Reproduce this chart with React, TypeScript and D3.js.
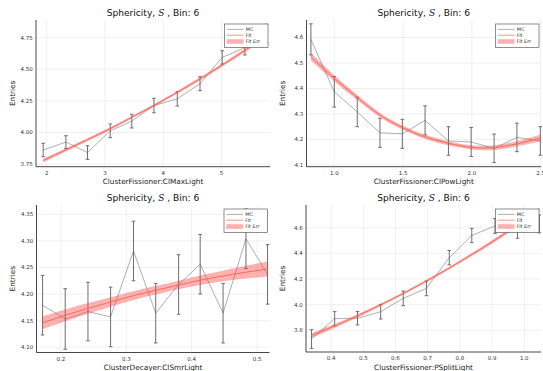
import React from "react";
import * as d3 from "d3";

const W = 543;
const H = 371;

// ClusterFissioner:ClMaxLight
const clMaxX = [1.94, 2.33, 2.7, 3.09, 3.46, 3.84, 4.24, 4.63, 5.01, 5.4, 5.77];
const clMaxMC = [3.861, 3.924, 3.841, 4.013, 4.09, 4.213, 4.266, 4.386, 4.594, 4.672, 4.78];
const clMaxMCErr = [0.053, 0.05, 0.054, 0.054, 0.054, 0.057, 0.057, 0.055, 0.053, 0.059, 0.076];
const clMaxFit = [3.778, 3.862, 3.943, 4.03, 4.12, 4.214, 4.318, 4.424, 4.533, 4.649, 4.764];
const clMaxFitErr = [0.014, 0.013, 0.012, 0.011, 0.01, 0.01, 0.011, 0.012, 0.013, 0.015, 0.017];
const clMaxXTicks = [2, 3, 4, 5];
const clMaxYTicks = [3.75, 4.0, 4.25, 4.5, 4.75];

// ClusterFissioner:ClPowLight
const clPowX = [0.83, 1.0, 1.167, 1.332, 1.495, 1.66, 1.83, 1.995, 2.162, 2.328, 2.498];
const clPowMC = [4.593, 4.387, 4.308, 4.226, 4.222, 4.275, 4.194, 4.19, 4.165, 4.208, 4.194];
const clPowMCErr = [0.061, 0.06, 0.058, 0.057, 0.057, 0.057, 0.056, 0.057, 0.056, 0.056, 0.056];
const clPowFit = [4.525, 4.44, 4.365, 4.296, 4.247, 4.21, 4.185, 4.169, 4.168, 4.183, 4.205];
const clPowFitErr = [0.015, 0.012, 0.01, 0.009, 0.008, 0.008, 0.008, 0.008, 0.009, 0.01, 0.013];
const clPowXTicks = [1.0, 1.5, 2.0, 2.5];
const clPowYTicks = [4.1, 4.2, 4.3, 4.4, 4.5, 4.6];

// ClusterDecayer:ClSmrLight
const clSmrX = [0.172, 0.2066, 0.2414, 0.276, 0.311, 0.345, 0.38, 0.413, 0.448, 0.483, 0.516];
const clSmrMC = [4.179, 4.153, 4.167, 4.157, 4.281, 4.164, 4.218, 4.256, 4.164, 4.304, 4.237];
const clSmrMCErr = [0.056, 0.057, 0.055, 0.056, 0.056, 0.056, 0.056, 0.056, 0.056, 0.056, 0.056];
const clSmrFit = [4.146, 4.16, 4.173, 4.185, 4.197, 4.207, 4.217, 4.226, 4.234, 4.241, 4.247];
const clSmrFitErr = [0.012, 0.011, 0.01, 0.009, 0.008, 0.008, 0.008, 0.009, 0.01, 0.012, 0.014];
const clSmrXTicks = [0.2, 0.3, 0.4, 0.5];
const clSmrYTicks = [4.1, 4.15, 4.2, 4.25, 4.3, 4.35];

// ClusterFissioner:PSplitLight
const pSplitX = [0.339, 0.411, 0.482, 0.554, 0.624, 0.696, 0.767, 0.837, 0.909, 0.979, 1.047];
const pSplitMC = [3.732, 3.891, 3.894, 3.945, 4.049, 4.127, 4.366, 4.539, 4.614, 4.575, 4.63];
const pSplitMCErr = [0.073, 0.055, 0.052, 0.057, 0.057, 0.057, 0.056, 0.056, 0.058, 0.057, 0.07];
const pSplitFit = [3.76, 3.834, 3.913, 3.999, 4.087, 4.184, 4.285, 4.391, 4.503, 4.622, 4.74];
const pSplitFitErr = [0.018, 0.015, 0.013, 0.011, 0.01, 0.01, 0.011, 0.012, 0.014, 0.016, 0.018];
const pSplitXTicks = [0.4, 0.5, 0.6, 0.7, 0.8, 0.9, 1.0];
const pSplitYTicks = [3.8, 4.0, 4.2, 4.4, 4.6];

const legendLabels = ["MC", "Fit", "Fit Err"];

const FONT = "'DejaVu Sans', sans-serif";
const MC_COLOR = "#9a9a9a";
const ERR_COLOR = "#555555";
const FIT_COLOR = "#e8805c";
const BAND_COLOR = "#ff3b3b";
const GRID_COLOR = "#e9e9e9";
const AXIS_COLOR = "#333333";

type PanelSpec = {
  key: string;
  left: number;
  right: number;
  top: number;
  bottom: number;
  xs: number[];
  mc: number[];
  mcErr: number[];
  fit: number[];
  fitErr: number[];
  xDomain: [number, number];
  yDomain: [number, number];
  xTicks: number[];
  yTicks: number[];
  xFmt: string;
  yFmt: string;
  xLabel: string;
};

const panels: PanelSpec[] = [
  {
    key: "clmax", left: 36, right: 270, top: 20, bottom: 166.7,
    xs: clMaxX, mc: clMaxMC, mcErr: clMaxMCErr, fit: clMaxFit, fitErr: clMaxFitErr,
    xDomain: [1.817, 5.83], yDomain: [3.729, 4.89],
    xTicks: clMaxXTicks, yTicks: clMaxYTicks, xFmt: "d", yFmt: ".2f",
    xLabel: "ClusterFissioner:ClMaxLight",
  },
  {
    key: "clpow", left: 306.5, right: 541, top: 20, bottom: 166.7,
    xs: clPowX, mc: clPowMC, mcErr: clPowMCErr, fit: clPowFit, fitErr: clPowFitErr,
    xDomain: [0.798, 2.503], yDomain: [4.093, 4.669],
    xTicks: clPowXTicks, yTicks: clPowYTicks, xFmt: ".1f", yFmt: ".1f",
    xLabel: "ClusterFissioner:ClPowLight",
  },
  {
    key: "clsmr", left: 36.5, right: 269.5, top: 205, bottom: 352.5,
    xs: clSmrX, mc: clSmrMC, mcErr: clSmrMCErr, fit: clSmrFit, fitErr: clSmrFitErr,
    xDomain: [0.1627, 0.519], yDomain: [4.09, 4.3675],
    xTicks: clSmrXTicks, yTicks: clSmrYTicks, xFmt: ".1f", yFmt: ".2f",
    xLabel: "ClusterDecayer:ClSmrLight",
  },
  {
    key: "psplit", left: 306, right: 541, top: 205, bottom: 352,
    xs: pSplitX, mc: pSplitMC, mcErr: pSplitMCErr, fit: pSplitFit, fitErr: pSplitFitErr,
    xDomain: [0.322, 1.052], yDomain: [3.631, 4.777],
    xTicks: pSplitXTicks, yTicks: pSplitYTicks, xFmt: ".1f", yFmt: ".1f",
    xLabel: "ClusterFissioner:PSplitLight",
  },
];

type Pt = { x: number; mc: number; e: number; f: number; fe: number };

function Panel({ spec }: { spec: PanelSpec }) {
  const x = d3.scaleLinear().domain(spec.xDomain).range([spec.left, spec.right]);
  const y = d3.scaleLinear().domain(spec.yDomain).range([spec.bottom, spec.top]);
  const pts: Pt[] = spec.xs.map((v, i) => ({
    x: v, mc: spec.mc[i], e: spec.mcErr[i], f: spec.fit[i], fe: spec.fitErr[i],
  }));
  const mcPath = d3.line<Pt>().x((d) => x(d.x)).y((d) => y(d.mc))(pts) || "";
  const fitPath = d3.line<Pt>().x((d) => x(d.x)).y((d) => y(d.f)).curve(d3.curveNatural)(pts) || "";
  const bandPath =
    d3.area<Pt>().x((d) => x(d.x)).y0((d) => y(d.f - d.fe)).y1((d) => y(d.f + d.fe)).curve(d3.curveNatural)(pts) || "";
  const xf = d3.format(spec.xFmt);
  const yf = d3.format(spec.yFmt);
  const cx = (spec.left + spec.right) / 2;
  const cy = (spec.top + spec.bottom) / 2;
  const clipId = `clip-${spec.key}`;

  const lgRight = spec.right - 2;
  const lgLeft = lgRight - 43.5;
  const lgTop = spec.top + 4;
  const rows = [5.4, 11.2, 17.5];

  return (
    <g>
      <defs>
        <clipPath id={clipId}>
          <rect x={spec.left} y={spec.top - 6} width={spec.right - spec.left + 2} height={spec.bottom - spec.top + 6} />
        </clipPath>
      </defs>
      {/* grid */}
      {spec.xTicks.map((t) => (
        <line key={`gx${t}`} x1={x(t)} x2={x(t)} y1={spec.top} y2={spec.bottom} stroke={GRID_COLOR} strokeWidth={0.7} />
      ))}
      {spec.yTicks.map((t) => (
        <line key={`gy${t}`} x1={spec.left} x2={spec.right} y1={y(t)} y2={y(t)} stroke={GRID_COLOR} strokeWidth={0.7} />
      ))}
      <g clipPath={`url(#${clipId})`}>
        <path d={mcPath} fill="none" stroke={MC_COLOR} strokeWidth={0.8} />
        {pts.map((d, i) => (
          <g key={`e${i}`} stroke={ERR_COLOR} strokeWidth={1} opacity={0.85}>
            <line x1={x(d.x)} x2={x(d.x)} y1={y(d.mc - d.e)} y2={y(d.mc + d.e)} />
            <line x1={x(d.x) - 1.8} x2={x(d.x) + 1.8} y1={y(d.mc - d.e)} y2={y(d.mc - d.e)} />
            <line x1={x(d.x) - 1.8} x2={x(d.x) + 1.8} y1={y(d.mc + d.e)} y2={y(d.mc + d.e)} />
          </g>
        ))}
        <path d={fitPath} fill="none" stroke={FIT_COLOR} strokeWidth={0.9} />
        <path d={bandPath} fill={BAND_COLOR} fillOpacity={0.4} stroke="none" />
      </g>
      {/* axes */}
      <line x1={spec.left} x2={spec.left} y1={spec.top} y2={spec.bottom} stroke={AXIS_COLOR} strokeWidth={0.9} />
      <line x1={spec.left} x2={spec.right} y1={spec.bottom} y2={spec.bottom} stroke={AXIS_COLOR} strokeWidth={0.9} />
      {spec.xTicks.map((t) => (
        <text key={`tx${t}`} x={x(t)} y={spec.bottom + 8.2} fontSize={5.5} textAnchor="middle" fill="#333" fontFamily={FONT}>
          {xf(t)}
        </text>
      ))}
      {spec.yTicks.map((t) => (
        <text key={`ty${t}`} x={spec.left - 3.3} y={y(t)} dy="0.35em" fontSize={5.5} textAnchor="end" fill="#333" fontFamily={FONT}>
          {yf(t)}
        </text>
      ))}
      <text x={cx} y={spec.top - 3.6} fontSize={9.1} textAnchor="middle" fill="#111" fontFamily={FONT}>
        Sphericity,{" "}
        <tspan fontFamily="'DejaVu Serif', serif" fontStyle="italic">S</tspan>
        {" "}, Bin: 6
      </text>
      <text x={cx} y={spec.bottom + 17.6} fontSize={7.3} textAnchor="middle" fill="#222" fontFamily={FONT}>
        {spec.xLabel}
      </text>
      <text
        transform={`translate(${spec.left - 21.5},${cy}) rotate(-90)`}
        fontSize={7.3}
        textAnchor="middle"
        fill="#222"
        fontFamily={FONT}
      >
        Entries
      </text>
      {/* legend */}
      <rect x={lgLeft} y={lgTop} width={lgRight - lgLeft} height={23.5} fill="white" stroke="#444" strokeWidth={0.6} />
      <line x1={lgLeft + 2.3} x2={lgLeft + 19} y1={lgTop + rows[0]} y2={lgTop + rows[0]} stroke={MC_COLOR} strokeWidth={0.8} />
      <line x1={lgLeft + 2.3} x2={lgLeft + 19} y1={lgTop + rows[1]} y2={lgTop + rows[1]} stroke={FIT_COLOR} strokeWidth={0.8} />
      <rect x={lgLeft + 2.3} y={lgTop + rows[2] - 2.3} width={16.7} height={4.6} fill={BAND_COLOR} fillOpacity={0.4} />
      {legendLabels.map((l, i) => (
        <text key={l} x={lgLeft + 21.3} y={lgTop + rows[i]} dy="0.35em" fontSize={4.9} fill="#333" fontFamily={FONT}>
          {l}
        </text>
      ))}
    </g>
  );
}

export default function App() {
  return (
    <svg
      width={W}
      height={H}
      viewBox={`0 0 ${W} ${H}`}
      style={{ position: "absolute", left: 0, top: 0, background: "white" }}
    >
      <rect x={0} y={0} width={W} height={H} fill="white" />
      {panels.map((p) => (
        <Panel key={p.key} spec={p} />
      ))}
    </svg>
  );
}
